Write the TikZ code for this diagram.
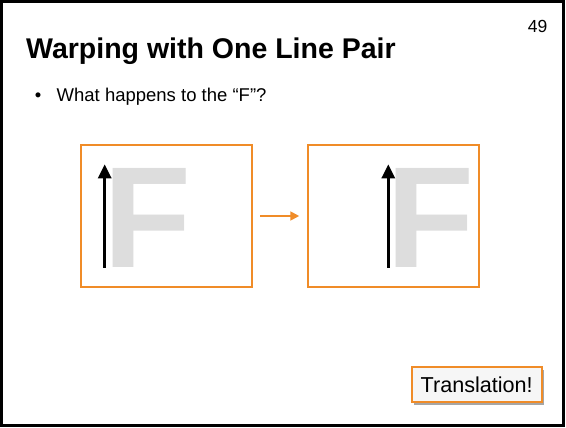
\documentclass[tikz,border=0pt]{standalone}
\usepackage{fontspec}
\setmainfont{Liberation Sans}
\usetikzlibrary{arrows.meta,shadows}
\definecolor{boxorange}{RGB}{240,140,40}
\definecolor{fgray}{RGB}{221,221,221}
\definecolor{notefill}{RGB}{246,246,246}
\tikzset{
  frameline/.style={line width=3pt, draw=black},
  txt/.style={inner sep=0pt, anchor=base west},
  imgbox/.style={draw=boxorange, line width=1.7pt, minimum width=171pt, minimum height=142pt, inner sep=0pt},
  bigF/.style={inner sep=0pt, anchor=base west, text=fgray, font=\fontsize{144}{144}\selectfont\bfseries},
  linearrow/.style={line width=3pt, -{Triangle[width=13pt,length=14pt]}},
  steparrow/.style={draw=boxorange, line width=1.8pt, -{Triangle[width=9pt,length=9pt]}, shorten <=7.2pt, shorten >=7.9pt},
  notebox/.style={draw=boxorange, line width=1.7pt, fill=notefill, minimum width=130pt, minimum height=35pt, inner sep=0pt,
    font=\fontsize{21.6}{26}\selectfont,
    drop shadow={shadow xshift=2.7pt, shadow yshift=-2.7pt, fill=black!35, opacity=1}}
}
\begin{document}
\begin{tikzpicture}[x=1pt,y=-1pt]
\useasboundingbox (0,0) rectangle (566,428);
\fill[white] (0,0) rectangle (566,428);
\draw[frameline] (1.5,1.5) rectangle (563.5,425);
\node[txt, font=\fontsize{28.5}{34}\selectfont\bfseries] (title) at (26,58.3) {Warping with One Line Pair};
\node[inner sep=0pt, anchor=base east, font=\fontsize{17.5}{20}\selectfont] (num) at (547.5,33) {49};
\node[inner sep=0pt, anchor=base, font=\fontsize{18.5}{22}\selectfont] (bullet) at (38,101.7) {•};
\node[txt, font=\fontsize{18.5}{22}\selectfont] (question) at (56.5,101.7) {What happens to the “F”?};
% left image
\node[imgbox] (boxL) at (166.5,216) {};
\node[bigF] (FL) at (103,267.7) {F};
\coordinate (aL0) at (104.7,267.7);
\coordinate (aL1) at (104.7,164.3);
\draw[linearrow] (aL0) -- (aL1);
% right image
\node[imgbox] (boxR) at (393.5,216) {};
\node[bigF] (FR) at (386.7,267.7) {F};
\coordinate (aR0) at (388.3,267.7);
\coordinate (aR1) at (388.3,164.3);
\draw[linearrow] (aR0) -- (aR1);
% step arrow
\draw[steparrow] (boxL.east) -- (boxR.west);
% note
\node[notebox] (note) at (476.7,384.8) {Translation!};
\end{tikzpicture}
\end{document}
